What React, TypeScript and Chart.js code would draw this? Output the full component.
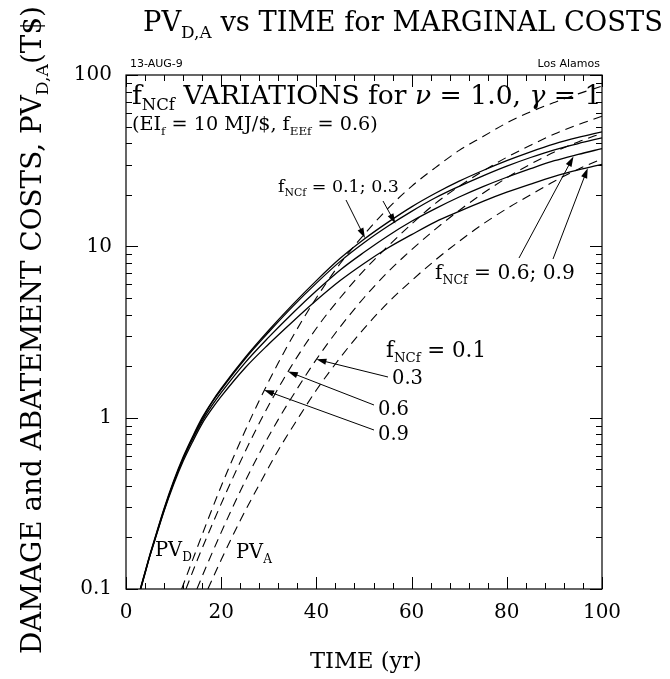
import { useEffect, useRef } from "react";
import { Chart, registerables } from "chart.js";

Chart.register(...registerables);

const SERIF = '"DejaVu Serif", "Liberation Serif", serif';
const SANS = '"DejaVu Sans", "Liberation Sans", sans-serif';

// Present value of damage costs PV_D (T$) for each f_NCf, solid lines
const damageYears = [3, 4, 5, 6, 8, 10, 12, 14, 16, 18, 20, 25, 30, 35, 40, 45, 50, 55, 60, 65, 70, 75, 80, 85, 90, 95, 100];
const damageNcf01 = [0.1, 0.126, 0.158, 0.195, 0.295, 0.427, 0.589, 0.776, 1.0, 1.23, 1.48, 2.24, 3.24, 4.57, 6.31, 8.51, 11.0, 13.8, 17.0, 20.4, 24.0, 27.7, 31.6, 35.6, 39.6, 43.2, 46.6];
const damageNcf03 = [0.099, 0.125, 0.156, 0.193, 0.291, 0.42, 0.58, 0.763, 0.98, 1.22, 1.46, 2.2, 3.16, 4.45, 6.1, 8.17, 10.5, 13.1, 16.0, 19.2, 22.4, 25.8, 29.4, 33.0, 36.6, 39.8, 43.0];
const damageNcf06 = [0.0989, 0.124, 0.156, 0.192, 0.288, 0.417, 0.573, 0.75, 0.955, 1.17, 1.4, 2.09, 2.95, 4.07, 5.5, 7.28, 9.23, 11.5, 14.0, 16.6, 19.4, 22.3, 25.3, 28.4, 31.6, 34.4, 37.2];
const damageNcf09 = [0.0977, 0.123, 0.155, 0.19, 0.285, 0.407, 0.556, 0.724, 0.923, 1.12, 1.33, 1.95, 2.69, 3.63, 4.84, 6.31, 7.94, 9.77, 11.7, 13.9, 16.0, 18.3, 20.7, 23.1, 25.6, 27.9, 30.1];

// Present value of abatement costs PV_A (T$) for each f_NCf, dashed lines
const abateYears09 = [11.7, 14, 17, 20, 24, 28, 32, 36, 40, 45, 50, 55, 60, 65, 70, 75, 80, 85, 90, 95, 100];
const abateNcf09 = [0.1, 0.148, 0.245, 0.398, 0.724, 1.26, 2.09, 3.31, 5.01, 7.94, 11.7, 16.6, 22.4, 28.8, 36.3, 43.7, 52.5, 61.0, 69.2, 77.6, 86.1];
const abateYears06 = [12.6, 15, 18, 21, 25, 29, 33, 37, 41, 45, 50, 55, 60, 65, 70, 75, 80, 85, 90, 95, 100];
const abateNcf06 = [0.1, 0.148, 0.234, 0.363, 0.631, 1.05, 1.66, 2.51, 3.63, 5.01, 7.24, 10.0, 13.5, 17.8, 22.4, 27.5, 33.1, 38.9, 45.2, 51.3, 57.5];
const abateYears03 = [14.9, 17, 20, 24, 28, 32, 36, 40, 45, 50, 55, 60, 65, 70, 75, 80, 85, 90, 95, 100];
const abateNcf03 = [0.1, 0.138, 0.214, 0.372, 0.617, 0.977, 1.48, 2.19, 3.39, 5.01, 7.08, 9.55, 12.6, 16.2, 20.4, 25.1, 30.2, 35.5, 40.7, 45.7];
const abateYears01 = [17.2, 20, 24, 28, 32, 36, 40, 45, 50, 55, 60, 65, 70, 75, 80, 85, 90, 95, 100];
const abateNcf01 = [0.1, 0.148, 0.251, 0.407, 0.646, 0.977, 1.45, 2.24, 3.31, 4.68, 6.31, 8.32, 10.7, 13.5, 16.6, 20.0, 24.0, 28.2, 32.4];

// Axis ticks
const xTickValues = [0, 20, 40, 60, 80, 100];
const xTickLabels = ["0", "20", "40", "60", "80", "100"];
const yTickValues = [0.1, 1, 10, 100];
const yTickLabels = ["0.1", "1", "10", "100"];
const xMinorStep = 4;
const yDecades = [0.1, 1, 10];

type Seg = { t: string; sub?: boolean; it?: boolean };

function segFont(s: Seg, size: number, family: string) {
  const px = s.sub ? size * 0.62 : size;
  return `${s.it ? "italic " : ""}${px.toFixed(2)}px ${family}`;
}

function richWidth(ctx: CanvasRenderingContext2D, segs: Seg[], size: number, family: string) {
  let w = 0;
  for (const s of segs) {
    ctx.font = segFont(s, size, family);
    w += ctx.measureText(s.t).width;
  }
  return w;
}

function fitSize(ctx: CanvasRenderingContext2D, segs: Seg[], width: number, family = SERIF) {
  return (100 * width) / richWidth(ctx, segs, 100, family);
}

function drawRich(ctx: CanvasRenderingContext2D, segs: Seg[], x: number, y: number, size: number, family = SERIF) {
  let cx = x;
  ctx.textAlign = "left";
  ctx.textBaseline = "alphabetic";
  for (const s of segs) {
    ctx.font = segFont(s, size, family);
    ctx.fillText(s.t, cx, s.sub ? y + size * 0.24 : y);
    cx += ctx.measureText(s.t).width;
  }
}

function arrow(ctx: CanvasRenderingContext2D, x1: number, y1: number, x2: number, y2: number) {
  const ang = Math.atan2(y2 - y1, x2 - x1);
  const len = 10;
  const half = 3.2;
  ctx.beginPath();
  ctx.moveTo(x1, y1);
  ctx.lineTo(x2 - Math.cos(ang) * len * 0.8, y2 - Math.sin(ang) * len * 0.8);
  ctx.stroke();
  ctx.beginPath();
  ctx.moveTo(x2, y2);
  ctx.lineTo(x2 - Math.cos(ang) * len - Math.sin(ang) * half, y2 - Math.sin(ang) * len + Math.cos(ang) * half);
  ctx.lineTo(x2 - Math.cos(ang) * len + Math.sin(ang) * half, y2 - Math.sin(ang) * len - Math.cos(ang) * half);
  ctx.closePath();
  ctx.fill();
}

const fNcf = (rest: string): Seg[] => [{ t: "f" }, { t: "NCf", sub: true }, { t: rest }];

const decor = {
  id: "decor",
  afterDraw(chart: any) {
    const { ctx, chartArea: a, scales } = chart;
    const xs = scales.x;
    const ys = scales.y;
    const px = (t: number) => xs.getPixelForValue(t);
    const py = (v: number) => ys.getPixelForValue(v);
    ctx.save();
    ctx.fillStyle = "#000";
    ctx.strokeStyle = "#000";

    // frame
    ctx.lineWidth = 1.2;
    ctx.strokeRect(a.left, a.top, a.right - a.left, a.bottom - a.top);

    // inward ticks on all four sides
    ctx.lineWidth = 1;
    ctx.beginPath();
    for (let t = 0; t <= 100; t += xMinorStep) {
      const x = Math.round(px(t)) + 0.5;
      const L = t % 20 === 0 ? 12 : 6;
      ctx.moveTo(x, a.bottom);
      ctx.lineTo(x, a.bottom - L);
      ctx.moveTo(x, a.top);
      ctx.lineTo(x, a.top + L);
    }
    for (const d of yDecades) {
      for (let m = 1; m <= 10; m++) {
        const y = Math.round(py(d * m)) + 0.5;
        const L = m === 1 || m === 10 ? 12 : 6;
        ctx.moveTo(a.left, y);
        ctx.lineTo(a.left + L, y);
        ctx.moveTo(a.right, y);
        ctx.lineTo(a.right - L, y);
      }
    }
    ctx.stroke();

    // title
    const title: Seg[] = [{ t: "PV" }, { t: "D,A", sub: true }, { t: " vs TIME for MARGINAL COSTS" }];
    drawRich(ctx, title, 143, 31, fitSize(ctx, title, 520));

    // small header texts
    ctx.font = `11px ${SANS}`;
    ctx.textBaseline = "alphabetic";
    ctx.textAlign = "left";
    ctx.fillText("13-AUG-9", 130, 67);
    ctx.textAlign = "right";
    ctx.fillText("Los Alamos", 600, 67);

    // axis titles
    const yTitle: Seg[] = [{ t: "DAMAGE and ABATEMENT COSTS, PV" }, { t: "D,A", sub: true }, { t: "(T$)" }];
    const yts = fitSize(ctx, yTitle, 648);
    const ytw = richWidth(ctx, yTitle, yts, SERIF);
    ctx.save();
    ctx.translate(41, 330);
    ctx.rotate(-Math.PI / 2);
    drawRich(ctx, yTitle, -ytw / 2, 0, yts);
    ctx.restore();

    const xTitle: Seg[] = [{ t: "TIME (yr)" }];
    const xtsz = fitSize(ctx, xTitle, 112);
    drawRich(ctx, xTitle, 366 - 56, 668, xtsz);

    // in-plot annotation
    ctx.save();
    ctx.beginPath();
    ctx.rect(a.left, a.top, a.right - a.left, a.bottom - a.top);
    ctx.clip();
    const head1: Seg[] = [{ t: "f" }, { t: "NCf", sub: true }, { t: " VARIATIONS for " }, { t: "\u03BD", it: true }, { t: " = 1.0, " }, { t: "\u03B3", it: true }, { t: " = 1." }];
    drawRich(ctx, head1, 132, 104, fitSize(ctx, head1, 478));
    ctx.restore();
    const head2: Seg[] = [{ t: "(EI" }, { t: "f", sub: true }, { t: " = 10 MJ/$, f" }, { t: "EEf", sub: true }, { t: " = 0.6)" }];
    drawRich(ctx, head2, 132, 130, fitSize(ctx, head2, 246));

    const lab1 = fNcf(" = 0.1; 0.3");
    drawRich(ctx, lab1, 278, 192, fitSize(ctx, lab1, 121));
    const lab2 = fNcf(" = 0.6; 0.9");
    drawRich(ctx, lab2, 435, 279, fitSize(ctx, lab2, 140));
    const lab3 = fNcf(" = 0.1");
    drawRich(ctx, lab3, 386, 357, fitSize(ctx, lab3, 100));
    const numSize = fitSize(ctx, [{ t: "0.3" }], 31);
    drawRich(ctx, [{ t: "0.3" }], 392, 384, numSize);
    drawRich(ctx, [{ t: "0.6" }], 378, 415, numSize);
    drawRich(ctx, [{ t: "0.9" }], 378, 440, numSize);
    drawRich(ctx, [{ t: "PV" }, { t: "D", sub: true }], 155, 556, numSize);
    drawRich(ctx, [{ t: "PV" }, { t: "A", sub: true }], 236, 558, numSize);

    // arrows: tails in pixels, tips on the curves
    ctx.lineWidth = 1;
    arrow(ctx, 346, 200, px(50.2), py(11.2));
    arrow(ctx, 383, 201, px(56.6), py(13.6));
    arrow(ctx, 519, 258, px(94), py(33.4));
    arrow(ctx, 553, 259, px(97), py(28.6));
    arrow(ctx, 388, 377, px(40), py(2.19));
    arrow(ctx, 374, 405, px(34), py(1.86));
    arrow(ctx, 374, 430, px(29), py(1.45));

    ctx.restore();
  },
};

export default function App() {
  const ref = useRef<HTMLCanvasElement>(null);

  useEffect(() => {
    const canvas = ref.current;
    if (!canvas) return;
    const pts = (xs: number[], ys: number[]) => xs.map((x, i) => ({ x, y: ys[i] }));
    const solid = (label: string, xs: number[], ys: number[]) => ({
      label,
      data: pts(xs, ys),
      borderColor: "#000",
      borderWidth: 1.3,
      pointRadius: 0,
      cubicInterpolationMode: "monotone" as const,
      fill: false,
    });
    const dashed = (label: string, xs: number[], ys: number[]) => ({
      ...solid(label, xs, ys),
      borderWidth: 1.1,
      borderDash: [9, 6],
    });

    const chart = new Chart(canvas, {
      type: "line",
      data: {
        datasets: [
          solid("PV_D f_NCf=0.1", damageYears, damageNcf01),
          solid("PV_D f_NCf=0.3", damageYears, damageNcf03),
          solid("PV_D f_NCf=0.6", damageYears, damageNcf06),
          solid("PV_D f_NCf=0.9", damageYears, damageNcf09),
          dashed("PV_A f_NCf=0.9", abateYears09, abateNcf09),
          dashed("PV_A f_NCf=0.6", abateYears06, abateNcf06),
          dashed("PV_A f_NCf=0.3", abateYears03, abateNcf03),
          dashed("PV_A f_NCf=0.1", abateYears01, abateNcf01),
        ],
      },
      options: {
        animation: false,
        responsive: false,
        devicePixelRatio: 1,
        layout: { padding: { top: 75, right: 68, left: 0, bottom: 0 } },
        plugins: { legend: { display: false }, tooltip: { enabled: false }, title: { display: false } },
        scales: {
          x: {
            type: "linear",
            min: 0,
            max: 100,
            afterFit: (s: any) => {
              s.height = 90;
            },
            afterBuildTicks: (s: any) => {
              s.ticks = xTickValues.map((value) => ({ value }));
            },
            grid: { display: false, drawTicks: false },
            border: { display: false },
            ticks: {
              color: "#000",
              font: { family: SERIF, size: 20 },
              padding: 12,
              maxRotation: 0,
              autoSkip: false,
              callback: (v: any) => {
                const i = xTickValues.indexOf(Number(v));
                return i >= 0 ? xTickLabels[i] : "";
              },
            },
          },
          y: {
            type: "logarithmic",
            min: 0.1,
            max: 100,
            afterFit: (s: any) => {
              s.width = 126;
            },
            afterBuildTicks: (s: any) => {
              s.ticks = yTickValues.map((value) => ({ value }));
            },
            grid: { display: false, drawTicks: false },
            border: { display: false },
            ticks: {
              color: "#000",
              font: { family: SERIF, size: 20 },
              padding: 14,
              autoSkip: false,
              callback: (v: any) => {
                const i = yTickValues.indexOf(Number(v));
                return i >= 0 ? yTickLabels[i] : "";
              },
            },
          },
        },
      },
      plugins: [decor],
    });
    return () => chart.destroy();
  }, []);

  return (
    <div style={{ position: "absolute", left: 0, top: 0, width: 670, height: 679, background: "#fff" }}>
      <canvas ref={ref} width={670} height={679} style={{ display: "block", width: 670, height: 679 }} />
    </div>
  );
}
